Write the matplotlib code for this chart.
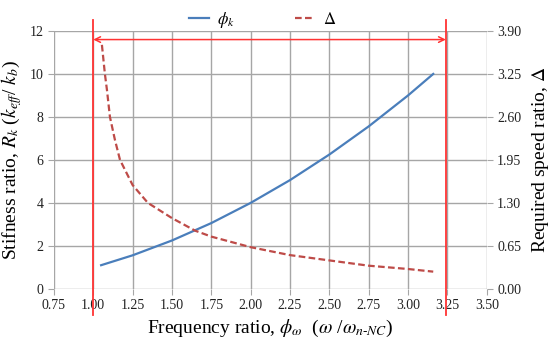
import matplotlib.pyplot as plt

plt.rcParams['font.family'] = ['Liberation Serif', 'DejaVu Serif']
plt.rcParams['mathtext.fontset'] = 'stix'

# stiffness ratio phi_k vs frequency ratio
phi_w_k = [1.05, 1.25, 1.5, 1.75, 2.0, 2.25, 2.5, 2.75, 3.0, 3.16]
phi_k = [1.1, 1.56, 2.25, 3.06, 4.0, 5.06, 6.25, 7.56, 9.0, 10.0]

# required speed ratio Delta vs frequency ratio
phi_w_d = [1.055, 1.074, 1.087, 1.106, 1.138, 1.17, 1.25, 1.347, 1.5, 1.647,
           1.75, 2.0, 2.25, 2.5, 2.75, 3.0, 3.16]
delta = [3.69, 3.25, 3.01, 2.6, 2.25, 1.95, 1.57, 1.30, 1.07, 0.88,
         0.79, 0.63, 0.51, 0.43, 0.35, 0.30, 0.26]

x_ticks = [0.75, 1.00, 1.25, 1.50, 1.75, 2.00, 2.25, 2.50, 2.75, 3.00, 3.25, 3.50]
y_ticks = [0, 2, 4, 6, 8, 10, 12]
y2_ticks = [0.00, 0.65, 1.30, 1.95, 2.60, 3.25, 3.90]
bounds = [1.0, 3.24]

fig = plt.figure(figsize=(5.5, 3.48), dpi=100)
ax = fig.add_axes([0.098, 0.170, 0.787, 0.741])
ax2 = ax.twinx()

grid_c = '#A6A6A6'
ax.set_xlim(0.75, 3.5)
ax.set_ylim(0, 12)
ax2.set_ylim(0, 3.9)
ax.set_xticks(x_ticks)
ax.set_xticklabels([f'{v:.2f}' for v in x_ticks])
ax.set_yticks(y_ticks)
ax2.set_yticks(y2_ticks)
ax2.set_yticklabels([f'{v:.2f}' for v in y2_ticks])
ax.grid(True, color=grid_c, lw=1)
ax.set_axisbelow(True)
for a in (ax, ax2):
    for s in a.spines.values():
        s.set_visible(False)
    a.tick_params(colors=grid_c, labelcolor='#222222', labelsize=10, length=4)

l1, = ax.plot(phi_w_k, phi_k, color='#4A7EBB', lw=1.6, label=r'$\phi_k$')
l2, = ax2.plot(phi_w_d, delta, color='#BE4B48', lw=1.6, ls=(0, (3, 1.5)), label=r'$\Delta$')

for b in bounds:
    ax.plot([b, b], [-1.2, 12.5], color='#FF3333', lw=1.3, clip_on=False, zorder=5)
ax.annotate('', xy=(bounds[0], 11.6), xytext=(bounds[1], 11.6),
            arrowprops=dict(arrowstyle='<->', color='#FF3333', lw=1.1,
                            shrinkA=0, shrinkB=0))

ax.set_xlabel(r'Frequency ratio, $\boldsymbol{\phi_\omega}$  ($\omega$ /$\omega_{n\text{-}NC}$)',
              fontsize=14, labelpad=4)
ax.set_ylabel(r'Stifness ratio, $R_k$ ($k_{eff}$/ $k_b$)', fontsize=14, labelpad=4)
ax2.set_ylabel(r'Required speed ratio, $\Delta$', fontsize=14, labelpad=6)

fig.legend(handles=[l1, l2], loc='upper center', bbox_to_anchor=(0.477, 1.015),
           ncol=2, frameon=False, fontsize=12, handlelength=1.2, handletextpad=0.5,
           columnspacing=3.6)

fig.savefig('out.png', dpi=100)
